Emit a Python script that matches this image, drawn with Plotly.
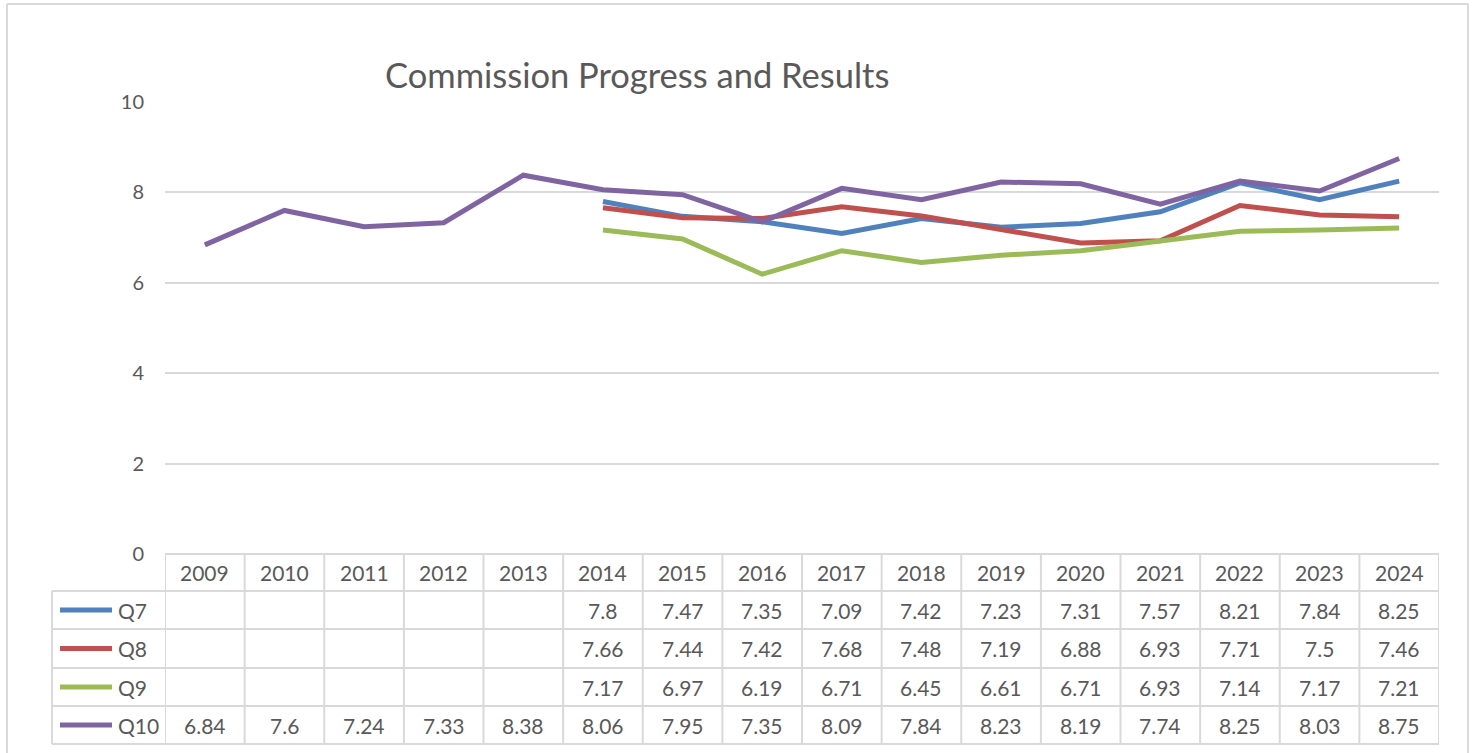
import plotly.graph_objects as go

years = ["2009", "2010", "2011", "2012", "2013", "2014", "2015", "2016",
         "2017", "2018", "2019", "2020", "2021", "2022", "2023", "2024"]
series_names = ["Q7", "Q8", "Q9", "Q10"]
q7 = [None, None, None, None, None, 7.8, 7.47, 7.35, 7.09, 7.42, 7.23, 7.31, 7.57, 8.21, 7.84, 8.25]
q8 = [None, None, None, None, None, 7.66, 7.44, 7.42, 7.68, 7.48, 7.19, 6.88, 6.93, 7.71, 7.5, 7.46]
q9 = [None, None, None, None, None, 7.17, 6.97, 6.19, 6.71, 6.45, 6.61, 6.71, 6.93, 7.14, 7.17, 7.21]
q10 = [6.84, 7.6, 7.24, 7.33, 8.38, 8.06, 7.95, 7.35, 8.09, 7.84, 8.23, 8.19, 7.74, 8.25, 8.03, 8.75]
colors = ["#4F81BD", "#C0504D", "#9BBB59", "#8064A2"]
title = "Commission Progress and Results"
y_ticks = [0, 2, 4, 6, 8, 10]

W = 1476
# the rendered figure occupies 729 px vertically, starting 12 px down the page
FH, OFF = 729, 12
FONT = "Lato"
TXT = "#595959"
GRID = "#D9D9D9"

def px(x):
    return x / W

def py(y):
    return 1 - (y - OFF) / FH

plot_l, plot_r = 165, 1439
plot_t, plot_b = 101, 553
row_lines = [553, 590, 628, 667, 705, 743]
label_l = 52

fig = go.Figure()
idx = list(range(len(years)))
all_series = [q7, q8, q9, q10]
for name, vals, c in zip(series_names, all_series, colors):
    fig.add_trace(go.Scatter(x=idx, y=vals, name=name, mode="lines",
                             line=dict(color=c, width=5), connectgaps=False,
                             showlegend=False, hoverinfo="skip"))

shapes = []
annotations = []

# outer border
for bx in (7, 1468):
    shapes.append(dict(type="line", xref="paper", yref="paper",
                       x0=px(bx), x1=px(bx), y0=py(770), y1=py(3),
                       line=dict(color=GRID, width=2)))
shapes.append(dict(type="line", xref="paper", yref="paper",
                   x0=px(7), x1=px(1468), y0=py(3), y1=py(3),
                   line=dict(color=GRID, width=2)))

# table horizontal lines
for i, yl in enumerate(row_lines):
    x0 = plot_l if i == 0 else label_l
    shapes.append(dict(type="line", xref="paper", yref="paper",
                       x0=px(x0), x1=px(plot_r), y0=py(yl), y1=py(yl),
                       line=dict(color=GRID, width=2)))
# table vertical lines (column boundaries on data axis)
for k in range(len(years) + 1):
    shapes.append(dict(type="line", xref="x", yref="paper",
                       x0=k - 0.5, x1=k - 0.5, y0=py(row_lines[0]), y1=py(row_lines[-1]),
                       line=dict(color=GRID, width=2)))
# label column left edge
shapes.append(dict(type="line", xref="paper", yref="paper",
                   x0=px(label_l), x1=px(label_l), y0=py(row_lines[1]), y1=py(row_lines[-1]),
                   line=dict(color=GRID, width=2)))

TF = dict(family=FONT, size=21, color=TXT)
# header year labels
for k, yr in enumerate(years):
    annotations.append(dict(xref="x", yref="paper", x=k, y=py((row_lines[0] + row_lines[1]) / 2),
                            text=yr, showarrow=False, font=TF,
                            xanchor="center", yanchor="middle"))

# rows
for r, (name, vals, c) in enumerate(zip(series_names, all_series, colors)):
    yc = (row_lines[r + 1] + row_lines[r + 2]) / 2
    shapes.append(dict(type="line", xref="paper", yref="paper",
                       x0=px(60), x1=px(112), y0=py(yc), y1=py(yc),
                       line=dict(color=c, width=5)))
    annotations.append(dict(xref="paper", yref="paper", x=px(116), y=py(yc), text=name,
                            showarrow=False, font=TF,
                            xanchor="left", yanchor="middle"))
    for k, v in enumerate(vals):
        if v is None:
            continue
        annotations.append(dict(xref="x", yref="paper", x=k, y=py(yc), text=str(v),
                                showarrow=False, font=TF,
                                xanchor="center", yanchor="middle"))

# title
annotations.append(dict(xref="paper", yref="paper", x=px(637), y=py(73), text=title,
                        showarrow=False, font=dict(family=FONT, size=34.5, color=TXT),
                        xanchor="center", yanchor="middle"))

fig.update_layout(
    autosize=True,
    margin=dict(l=0, r=0, t=0, b=0),
    paper_bgcolor="white", plot_bgcolor="white",
    shapes=shapes, annotations=annotations,
    xaxis=dict(domain=[px(plot_l), px(plot_r)], range=[-0.5, len(years) - 0.5],
               showgrid=False, zeroline=False, showticklabels=False, showline=False, fixedrange=True),
    yaxis=dict(domain=[py(plot_b), py(plot_t)], range=[0, 10], tickvals=y_ticks,
               showgrid=True, gridcolor=GRID, gridwidth=2, zeroline=False, showline=False,
               tickfont=dict(family=FONT, size=20, color=TXT), ticks="", ticklabelstandoff=20,
               fixedrange=True),
    font=dict(family=FONT, color=TXT),
)

post = ("document.documentElement.style.height='100%';"
        "document.documentElement.style.margin='0';"
        "document.body.style.margin='0';"
        "document.body.style.height='100%';"
        "document.body.style.overflow='hidden';"
        "var gd=document.getElementById('{plot_id}');"
        "gd.style.width='100vw';gd.style.height='100vh';"
        "Plotly.Plots.resize(gd);")

fig.write_html("out.html", post_script=post, default_width="100%", default_height="100%",
               config={"displayModeBar": False, "responsive": True})
